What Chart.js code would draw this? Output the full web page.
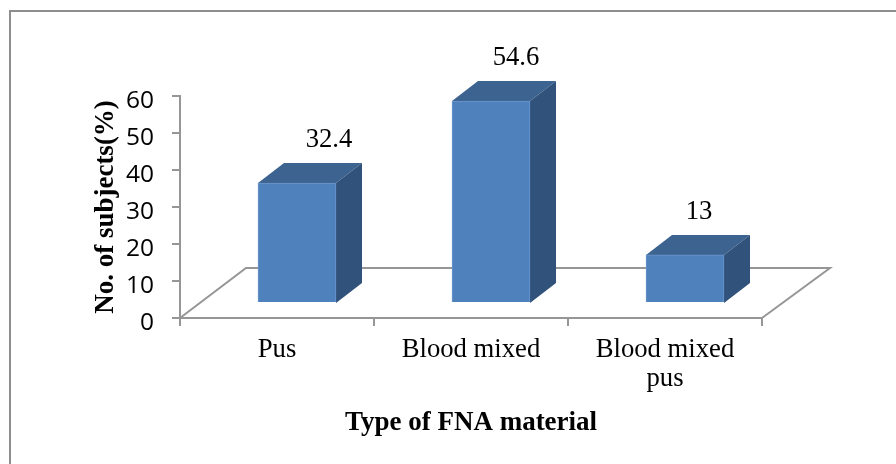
<!DOCTYPE html>
<html>
<head>
<meta charset="utf-8">
<style>
  html, body { margin: 0; padding: 0; background: #fff; }
  #wrap { position: relative; width: 896px; height: 464px; overflow: hidden; }
</style>
<script src="https://cdn.jsdelivr.net/npm/chart.js@4"></script>
</head>
<body>
<div id="wrap"><canvas id="chart" width="896" height="464"></canvas></div>
<script>
// Type of FNA material, share of subjects in percent
const categories = ['Pus', 'Blood mixed', ['Blood mixed', 'pus']];
const subjectShare = [32.4, 54.6, 13];
const yTicks = [0, 10, 20, 30, 40, 50, 60];
const yAxisTitle = 'No. of subjects(%)';
const xAxisTitle = 'Type of FNA material';

const SERIF = '"Liberation Serif", serif';
const SANS = '"Open Sans", sans-serif';
const AXIS = '#969696';
const FRONT = '#4F81BD';
const TOP = '#3D6390';
const SIDE = '#31527A';

// Oblique projection of the floor and the columns
const FLOOR_DX = 66, FLOOR_DY = -50;
const BAR_SHIFT_X = 20, BAR_SHIFT_Y = -15;
const DEPTH_X = 26, DEPTH_Y = -20;
const LABEL_NUDGE = [32, 25, 14];

function poly(ctx, pts, fill) {
  ctx.beginPath();
  pts.forEach((p, i) => i ? ctx.lineTo(p[0], p[1]) : ctx.moveTo(p[0], p[1]));
  ctx.closePath();
  ctx.fillStyle = fill;
  ctx.fill();
}

// Outer frame: only the left and top edges fall inside the canvas
const frame = {
  id: 'frame',
  beforeDraw(chart) {
    const { ctx } = chart;
    ctx.save();
    ctx.strokeStyle = '#8e8e8e';
    ctx.lineWidth = 2;
    ctx.beginPath();
    ctx.moveTo(10, 464);
    ctx.lineTo(10, 11);
    ctx.lineTo(896, 11);
    ctx.stroke();
    ctx.restore();
  }
};

// Back edges of the floor plane, behind the columns
const floor = {
  id: 'floor',
  beforeDatasetsDraw(chart) {
    const { ctx, chartArea: a } = chart;
    ctx.save();
    ctx.strokeStyle = AXIS;
    ctx.lineWidth = 2;
    ctx.beginPath();
    ctx.moveTo(a.left, a.bottom);
    ctx.lineTo(a.left + FLOOR_DX, a.bottom + FLOOR_DY);
    ctx.lineTo(a.right + FLOOR_DX + 2, a.bottom + FLOOR_DY);
    ctx.lineTo(a.right, a.bottom);
    ctx.stroke();
    ctx.restore();
  }
};

// Moves the columns onto the floor and adds their top and side faces
const columns = {
  id: 'columns',
  beforeDatasetDraw(chart) {
    const { ctx } = chart;
    const base = chart.scales.y.getPixelForValue(0);
    ctx.save();
    ctx.translate(BAR_SHIFT_X, BAR_SHIFT_Y);
    chart.getDatasetMeta(0).data.forEach(bar => {
      const l = bar.x - bar.width / 2, r = bar.x + bar.width / 2, t = bar.y;
      poly(ctx, [[l, t], [r, t], [r + DEPTH_X, t + DEPTH_Y], [l + DEPTH_X, t + DEPTH_Y]], TOP);
      poly(ctx, [[r, t], [r + DEPTH_X, t + DEPTH_Y], [r + DEPTH_X, base + DEPTH_Y], [r, base]], SIDE);
    });
  },
  afterDatasetDraw(chart) {
    const { ctx } = chart;
    ctx.restore();
    ctx.save();
    ctx.font = '26.7px ' + SERIF;
    ctx.fillStyle = '#000';
    ctx.textAlign = 'center';
    ctx.textBaseline = 'alphabetic';
    chart.getDatasetMeta(0).data.forEach((bar, i) => {
      ctx.fillText(String(subjectShare[i]), bar.x + BAR_SHIFT_X + LABEL_NUDGE[i], bar.y + BAR_SHIFT_Y - 36);
    });
    ctx.restore();
  }
};

new Chart(document.getElementById('chart'), {
  type: 'bar',
  data: {
    labels: categories,
    datasets: [{
      data: subjectShare,
      backgroundColor: FRONT,
      borderColor: '#6C97CC',
      borderWidth: 1,
      barThickness: 78,
      clip: false
    }]
  },
  plugins: [frame, floor, columns],
  options: {
    responsive: false,
    animation: false,
    events: [],
    layout: { padding: { top: 96, right: 134, left: 0, bottom: 0 } },
    plugins: { legend: { display: false }, tooltip: { enabled: false } },
    scales: {
      x: {
        afterFit(s) { s.height = 146; },
        grid: { drawOnChartArea: false, color: AXIS, lineWidth: 2, tickLength: 8, offset: true },
        border: { color: AXIS, width: 2 },
        ticks: { font: { family: SERIF, size: 26.7, lineHeight: 1.1 }, color: '#000', maxRotation: 0, autoSkip: false, padding: 9 },
        title: {
          display: true, text: xAxisTitle, color: '#000',
          font: { family: SERIF, size: 27, weight: 'bold' },
          padding: { top: 0, bottom: 25 }
        }
      },
      y: {
        min: 0, max: 60,
        afterFit(s) { s.width = 180; },
        afterBuildTicks(s) { s.ticks = yTicks.map(v => ({ value: v })); },
        grid: { drawOnChartArea: false, color: AXIS, lineWidth: 2, tickLength: 8 },
        border: { color: AXIS, width: 2 },
        ticks: { font: { family: SANS, size: 24.5 }, color: '#000', padding: 18, labelOffset: 5 },
        title: {
          display: true, text: yAxisTitle, color: '#000',
          font: { family: SERIF, size: 27, weight: 'bold' },
          padding: { top: 90, bottom: 0 }
        }
      }
    }
  }
});
</script>
</body>
</html>
